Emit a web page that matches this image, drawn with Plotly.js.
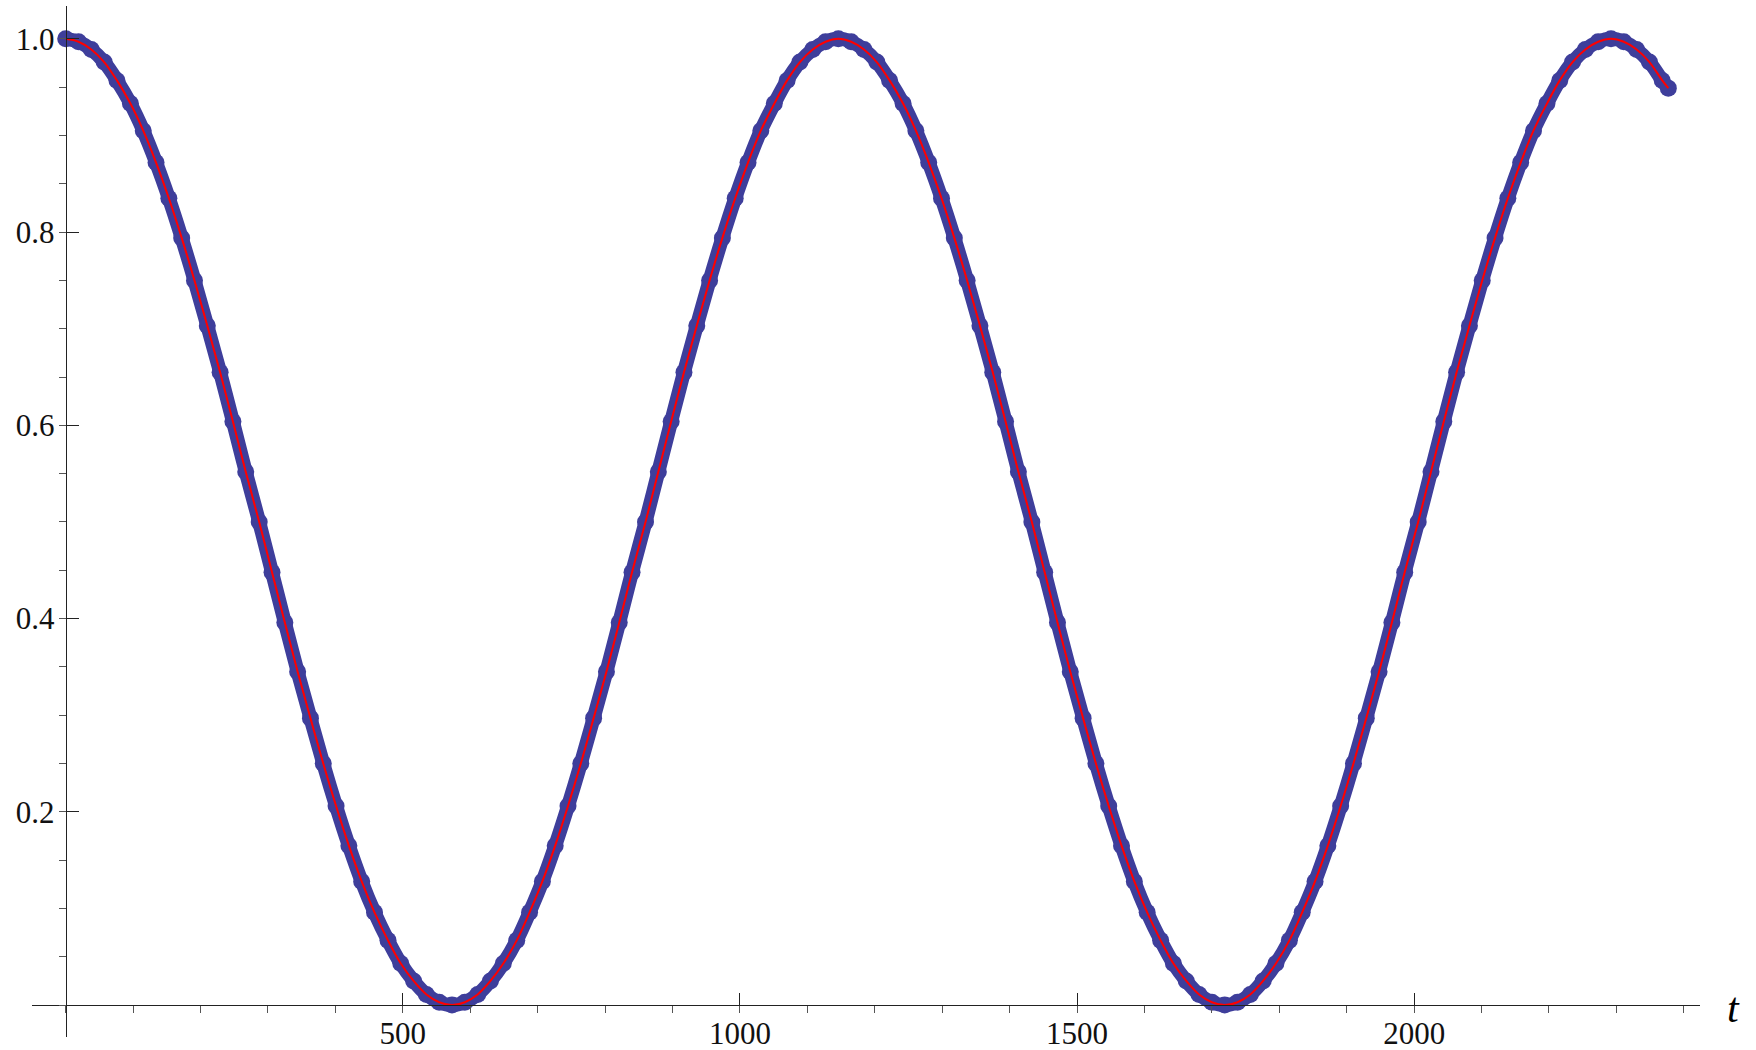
<!DOCTYPE html>
<html>
<head>
<meta charset="utf-8">
<script src="https://cdn.plot.ly/plotly-3.0.1.min.js"></script>
<style>
html,body{margin:0;padding:0;background:#fff;}
#chart{width:1756px;height:1050px;}
</style>
</head>
<body>
<div id="chart"></div>
<script>
// time values
var tValues = [0,19,38,57,76,96,115,134,153,172,191,210,229,248,267,287,306,325,344,363,
382,401,420,439,458,478,497,516,535,554,573,592,611,630,649,669,688,707,726,745,
764,783,802,821,840,860,879,898,917,936,955,974,993,1012,1031,1051,1070,1089,1108,1127,
1146,1165,1184,1203,1222,1242,1261,1280,1299,1318,1337,1356,1375,1394,1413,1433,1452,1471,1490,1509,
1528,1547,1566,1585,1604,1624,1643,1662,1681,1700,1719,1738,1757,1776,1795,1815,1834,1853,1872,1891,
1910,1929,1948,1967,1986,2006,2025,2044,2063,2082,2101,2120,2139,2158,2177,2197,2216,2235,2254,2273,
2292,2311,2330,2349,2368,2377];

// population values
var popValues = [1.000,0.997,0.989,0.976,0.957,0.933,0.905,0.872,0.835,0.794,0.750,0.703,0.655,0.604,0.552,0.500,0.448,0.396,0.345,0.297,
0.250,0.206,0.165,0.128,0.096,0.067,0.043,0.025,0.011,0.003,0.000,0.003,0.011,0.025,0.043,0.067,0.096,0.128,0.165,0.206,
0.250,0.297,0.345,0.396,0.448,0.500,0.552,0.604,0.655,0.703,0.750,0.794,0.835,0.872,0.905,0.933,0.957,0.976,0.989,0.997,
1.000,0.997,0.989,0.976,0.957,0.933,0.905,0.872,0.835,0.794,0.750,0.703,0.655,0.604,0.552,0.500,0.448,0.396,0.345,0.297,
0.250,0.206,0.165,0.128,0.096,0.067,0.043,0.025,0.011,0.003,0.000,0.003,0.011,0.025,0.043,0.067,0.096,0.128,0.165,0.206,
0.250,0.297,0.345,0.396,0.448,0.500,0.552,0.604,0.655,0.703,0.750,0.794,0.835,0.872,0.905,0.933,0.957,0.976,0.989,0.997,
1.000,0.997,0.989,0.976,0.957,0.949];

var xTickVals = [500,1000,1500,2000];
var xTickText = ['500','1000','1500','2000'];
var yTickVals = [0.2,0.4,0.6,0.8,1.0];
var yTickText = ['0.2','0.4','0.6','0.8','1.0'];

var serif = 'Liberation Serif';
var blue = 'rgb(62,62,155)';

var traces = [
  {x: tValues, y: popValues, type: 'scatter', mode: 'lines+markers',
   line: {color: blue, width: 14, shape: 'spline'},
   marker: {color: blue, size: 17}, hoverinfo: 'skip', showlegend: false},
  {x: tValues, y: popValues, type: 'scatter', mode: 'lines',
   line: {color: 'rgb(255,0,0)', width: 2, shape: 'spline'}, showlegend: false}
];

var xr = [-50, 2424];
var yr = [-0.033, 1.034];

var layout = {
  width: 1756, height: 1050,
  margin: {l: 32, r: 56, t: 6, b: 13, pad: 0},
  paper_bgcolor: '#fff', plot_bgcolor: '#fff',
  showlegend: false,
  font: {family: serif},
  xaxis: {
    range: xr, anchor: 'free', position: (0 - yr[0]) / (yr[1] - yr[0]),
    showline: true, linecolor: '#222', linewidth: 1.3,
    showgrid: false, zeroline: false,
    ticks: 'inside', ticklen: 12, tickwidth: 1, tickcolor: '#222',
    tickmode: 'array', tickvals: xTickVals, ticktext: xTickText,
    tickfont: {family: serif, size: 31, color: '#111'},
    ticklabelstandoff: 0,
    minor: {tickmode: 'linear', tick0: 0, dtick: 100, ticklen: 7, tickwidth: 1, tickcolor: '#555', showgrid: false},
    automargin: false
  },
  yaxis: {
    range: yr, anchor: 'free', position: (0 - xr[0]) / (xr[1] - xr[0]),
    showline: true, linecolor: '#222', linewidth: 1.3,
    showgrid: false, zeroline: false,
    ticks: 'inside', ticklen: 12, tickwidth: 1, tickcolor: '#222',
    tickmode: 'array', tickvals: yTickVals, ticktext: yTickText,
    tickfont: {family: serif, size: 31, color: '#111'},
    ticklabelstandoff: 5,
    minor: {tickmode: 'linear', tick0: 0, dtick: 0.05, ticklen: 7, tickwidth: 1, tickcolor: '#555', showgrid: false},
    automargin: false
  },
  annotations: [{
    text: '<i>t</i>', xref: 'paper', yref: 'y', x: 1.0198, y: -0.003,
    xanchor: 'center', yanchor: 'middle', showarrow: false,
    font: {family: serif, size: 42, color: '#000'}
  }]
};

Plotly.newPlot('chart', traces, layout, {displayModeBar: false, staticPlot: true});
</script>
</body>
</html>
